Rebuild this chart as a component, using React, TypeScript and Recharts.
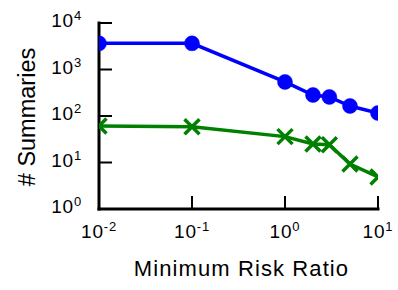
import { LineChart, Line, XAxis, YAxis } from "recharts"

const riskRatios = [0.01, 0.1, 1, 2, 3, 5, 10]
const blueSummaries = [3650, 3650, 540, 283, 257, 164, 116]
const greenSummaries = [61, 59, 36, 25, 24, 9.3, 4.9]
const xTicks = [0.01, 0.1, 1, 10]
const yTicks = [1, 10, 100, 1000, 10000]

const data = riskRatios.map((r, i) => ({
  ratio: r,
  blue: blueSummaries[i],
  green: greenSummaries[i],
}))

const FONT = "'Liberation Sans', Arial, Helvetica, sans-serif"
const TICK_LEN = 13

const exponent = (v: number) => Math.round(Math.log10(v))

function BottomTick({ x, y, payload }: any) {
  return (
    <g>
      <line x1={x} x2={x} y1={y} y2={y - TICK_LEN} stroke="#000" strokeWidth={2} />
      <text x={x} y={y + 29} textAnchor="middle" fontSize={19} letterSpacing={0.8} fontFamily={FONT} fill="#000">
        10<tspan dy={-7} fontSize={13}>{exponent(payload.value)}</tspan>
      </text>
    </g>
  )
}

function LeftTick({ x, y, payload }: any) {
  return (
    <g>
      <line x1={x} x2={x + TICK_LEN} y1={y} y2={y} stroke="#000" strokeWidth={2} />
      <text x={x - 17} y={y + 4} textAnchor="end" fontSize={19} letterSpacing={0.8} fontFamily={FONT} fill="#000">
        10<tspan dy={-7} fontSize={13}>{exponent(payload.value)}</tspan>
      </text>
    </g>
  )
}

function TopTick({ x, y }: any) {
  return <line x1={x} x2={x} y1={y} y2={y + TICK_LEN} stroke="#000" strokeWidth={2} />
}

function RightTick({ x, y }: any) {
  return <line x1={x} x2={x - TICK_LEN} y1={y} y2={y} stroke="#000" strokeWidth={2} />
}

function Cross({ cx, cy }: any) {
  const s = 7.5
  return (
    <path
      d={`M${cx - s},${cy - s}L${cx + s},${cy + s}M${cx - s},${cy + s}L${cx + s},${cy - s}`}
      stroke="#008000"
      strokeWidth={3.5}
      fill="none"
    />
  )
}

const axisLine = { stroke: "#000", strokeWidth: 3, strokeLinecap: "square" as const }

export default function App() {
  return (
    <div style={{ position: "absolute", left: 0, top: 0, background: "#fff" }}>
      <LineChart width={398} height={290} data={data} margin={{ top: 23, right: 20, bottom: 0, left: 0 }}>
        <XAxis
          xAxisId="bottom"
          dataKey="ratio"
          type="number"
          scale="log"
          domain={[0.01, 10]}
          allowDataOverflow
          ticks={xTicks}
          height={81}
          tickSize={0}
          tickMargin={0}
          tickLine={false}
          axisLine={axisLine}
          tick={<BottomTick />}
          interval={0}
          label={{
            content: ({ viewBox }: any) => (
              <text
                x={viewBox.x + viewBox.width / 2 + 3}
                y={viewBox.y + 67}
                textAnchor="middle"
                fontSize={22}
                letterSpacing={1.1}
                fontFamily={FONT}
                fill="#000"
              >
                Minimum Risk Ratio
              </text>
            ),
          }}
        />
        <XAxis
          xAxisId="top"
          orientation="top"
          dataKey="ratio"
          type="number"
          scale="log"
          domain={[0.01, 10]}
          allowDataOverflow
          ticks={xTicks}
          height={0}
          tickSize={0}
          tickMargin={0}
          tickLine={false}
          axisLine={axisLine}
          tick={<TopTick />}
          interval={0}
        />
        <YAxis
          yAxisId="left"
          type="number"
          scale="log"
          domain={[1, 10000]}
          allowDataOverflow
          ticks={yTicks}
          width={99}
          tickSize={0}
          tickMargin={0}
          tickLine={false}
          axisLine={axisLine}
          tick={<LeftTick />}
          interval={0}
          label={{
            content: ({ viewBox }: any) => {
              const cx = 35
              const cy = viewBox.y + viewBox.height / 2 + 1
              return (
                <text
                  x={cx}
                  y={cy}
                  transform={`rotate(-90, ${cx}, ${cy})`}
                  textAnchor="middle"
                  fontSize={23.5}
                  fontFamily={FONT}
                  fill="#000"
                >
                  # Summaries
                </text>
              )
            },
          }}
        />
        <YAxis
          yAxisId="right"
          orientation="right"
          type="number"
          scale="log"
          domain={[1, 10000]}
          allowDataOverflow
          ticks={yTicks}
          width={0}
          tickSize={0}
          tickMargin={0}
          tickLine={false}
          axisLine={axisLine}
          tick={<RightTick />}
          interval={0}
        />
        <Line
          xAxisId="bottom"
          yAxisId="left"
          dataKey="blue"
          type="linear"
          stroke="#0000ff"
          strokeWidth={3.5}
          dot={{ r: 7.5, fill: "#0000ff", stroke: "#0000ff", strokeWidth: 0.5 }}
          activeDot={false}
          isAnimationActive={false}
        />
        <Line
          xAxisId="bottom"
          yAxisId="left"
          dataKey="green"
          type="linear"
          stroke="#008000"
          strokeWidth={3.5}
          dot={<Cross />}
          activeDot={false}
          isAnimationActive={false}
        />
      </LineChart>
    </div>
  )
}
